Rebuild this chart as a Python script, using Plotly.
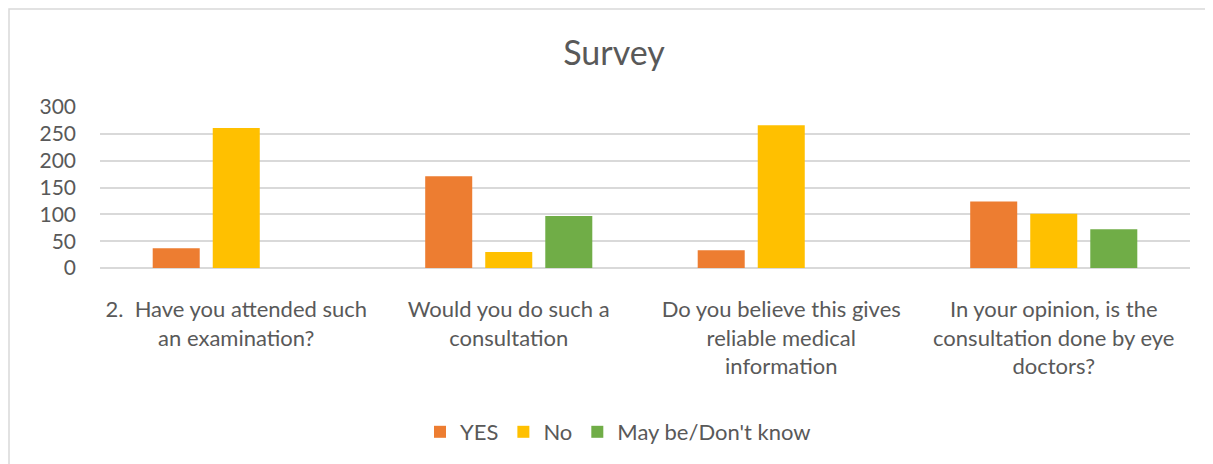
import plotly.graph_objects as go

categories = [
    "2.\u00a0 Have you attended such<br>an examination?",
    "Would you do such a<br>consultation",
    "Do you believe this gives<br>reliable medical<br>information",
    "In your opinion, is the<br>consultation done by eye<br>doctors?",
]
yes_vals = [37, 171, 33, 124]
no_vals = [261, 30, 266, 101]
maybe_vals = [None, 97, None, 72]

series_names = ["YES", "No", "May be/Don't know"]
colors = ["#ED7D31", "#FFC000", "#70AD47"]

FONT = "Lato, Carlito, Calibri, sans-serif"
TXT = "#595959"

fig = go.Figure()
for name, vals, col in zip(series_names, [yes_vals, no_vals, maybe_vals], colors):
    fig.add_trace(go.Bar(x=categories, y=vals, name=name, marker_color=col,
                         marker_line_width=0))

OFF = 8  # page body margin
W, H = 1213, 464
PL = 100 - OFF
PT = 107 - OFF
PR = W - (1190 - OFF)
PB = H - (268 - OFF)
pw = W - PL - PR
ph = H - PT - PB

def px_x(x):
    return (x - OFF - PL) / pw

def px_y(y):
    return (ph - (y - OFF - PT)) / ph

fig.update_layout(
    width=W, height=H,
    margin=dict(l=PL, r=PR, t=PT, b=PB),
    paper_bgcolor="white", plot_bgcolor="white",
    barmode="group", bargap=0.339, bargroupgap=0.217,
    font=dict(family=FONT, color=TXT, size=22),
    title=dict(text="Survey", x=(614 - OFF) / W, xref="container", xanchor="center",
               y=1 - (53 - OFF) / H, yref="container", yanchor="middle",
               font=dict(size=34, color=TXT, family=FONT)),
    legend=dict(orientation="h", x=px_x(618), xanchor="center",
                y=px_y(432), yanchor="middle",
                font=dict(size=22, color=TXT, family=FONT),
                itemwidth=30, traceorder="normal"),
    showlegend=True,
)
fig.update_yaxes(range=[0, 300], dtick=50, showgrid=True, gridcolor="#d9d9d9",
                 gridwidth=1.5, zeroline=True, zerolinecolor="#d9d9d9",
                 zerolinewidth=1.5, showline=False, ticks="",
                 tickfont=dict(size=21, color=TXT), ticklabelstandoff=23,
                 fixedrange=True)
fig.update_xaxes(showline=False, ticks="", tickfont=dict(size=22, color=TXT),
                 ticklabelstandoff=26, fixedrange=True)

# outer chart frame
fig.add_shape(type="rect", xref="paper", yref="paper",
              x0=px_x(9), x1=px_x(W + 30),
              y0=px_y(H + 30), y1=px_y(9),
              line=dict(color="#d9d9d9", width=1.5), fillcolor="rgba(0,0,0,0)",
              layer="below")

fig.write_html("out.html")
